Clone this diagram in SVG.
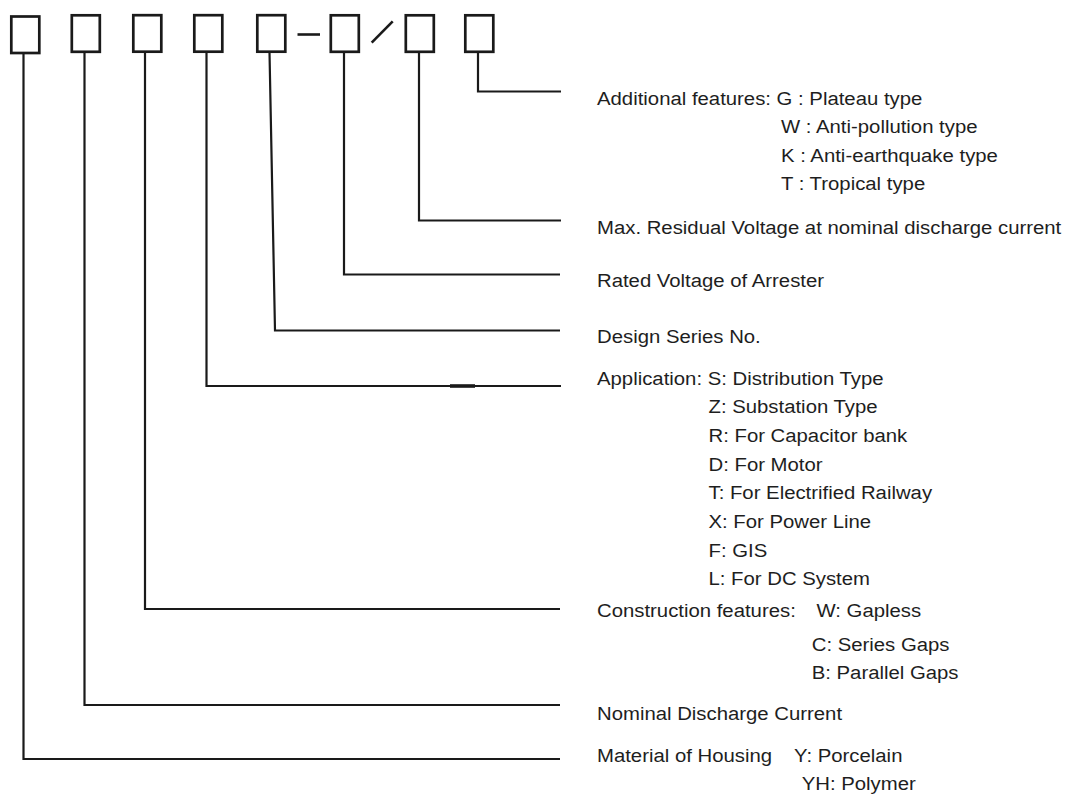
<svg xmlns="http://www.w3.org/2000/svg" width="1065" height="794" viewBox="0 0 1065 794">
<style>
.box{fill:none;stroke:#1a1a1a;stroke-width:2.7}
.ln{fill:none;stroke:#1a1a1a;stroke-width:2.2;stroke-linejoin:miter}
.sym{stroke:#1a1a1a;stroke-width:2.6;fill:none}
text{font-family:"Liberation Sans",Arial,sans-serif;font-size:18px;fill:#1e1e1e}
</style>
<rect width="1065" height="794" fill="#ffffff"/>
<g id="boxes">
<g id="box1"><rect class="box" x="11.3" y="16.5" width="28" height="36.5"/></g>
<g id="box2"><rect class="box" x="71.8" y="15.3" width="28" height="36.5"/></g>
<g id="box3"><rect class="box" x="133.3" y="15.2" width="28" height="36.5"/></g>
<g id="box4"><rect class="box" x="194.3" y="15.2" width="28" height="36.5"/></g>
<g id="box5"><rect class="box" x="257.3" y="15.2" width="28" height="36.5"/></g>
<g id="box6"><rect class="box" x="330.8" y="15.3" width="28" height="36.5"/></g>
<g id="box7"><rect class="box" x="405.8" y="15.3" width="28" height="36.5"/></g>
<g id="box8"><rect class="box" x="465.3" y="15.3" width="28" height="36.5"/></g>
<g id="separators">
<line class="sym" x1="297.5" y1="34.5" x2="320" y2="34.5"/>
<line class="sym" x1="371.7" y1="42.7" x2="392.7" y2="21.3"/>
</g>
</g>
<g id="connectors">
<polyline class="ln" points="478,52 478,91.5 561,91.5"/>
<polyline class="ln" points="419,52 419,220.5 561,220.5"/>
<polyline class="ln" points="344,52 344,274.5 560,274.5"/>
<polyline class="ln" points="269.5,52 275,330.5 560,330.5"/>
<polyline class="ln" points="206.5,52 206.5,386 561,386"/>
<line x1="450" y1="386" x2="475" y2="386" stroke="#1a1a1a" stroke-width="3.6"/>
<polyline class="ln" points="145,52 145,609 560,609"/>
<polyline class="ln" points="84.5,52 84.5,705 560,705"/>
<polyline class="ln" points="23.5,53 23.5,759 560,759"/>
</g>
<g id="label-additional">
<text transform="translate(597,104.5) scale(1.13,1)">Additional features: G : Plateau type</text>
<text transform="translate(781,133.1) scale(1.13,1)">W : Anti-pollution type</text>
<text transform="translate(781,161.7) scale(1.13,1)">K : Anti-earthquake type</text>
<text transform="translate(781,190.3) scale(1.13,1)">T : Tropical type</text>
</g>
<g id="label-maxres">
<text transform="translate(597,233.5) scale(1.13,1)">Max. Residual Voltage at nominal discharge current</text>
</g>
<g id="label-rated">
<text transform="translate(597,287) scale(1.13,1)">Rated Voltage of Arrester</text>
</g>
<g id="label-design">
<text transform="translate(597,342.5) scale(1.13,1)">Design Series No.</text>
</g>
<g id="label-application">
<text transform="translate(597,384.5) scale(1.13,1)">Application: S: Distribution Type</text>
<text transform="translate(708.5,413.2) scale(1.13,1)">Z: Substation Type</text>
<text transform="translate(708.5,441.9) scale(1.13,1)">R: For Capacitor bank</text>
<text transform="translate(708.5,470.6) scale(1.13,1)">D: For Motor</text>
<text transform="translate(708.5,499.3) scale(1.13,1)">T: For Electrified Railway</text>
<text transform="translate(708.5,528) scale(1.13,1)">X: For Power Line</text>
<text transform="translate(708.5,556.7) scale(1.13,1)">F: GIS</text>
<text transform="translate(708.5,585.4) scale(1.13,1)">L: For DC System</text>
</g>
<g id="label-construction">
<text transform="translate(597,616.5) scale(1.13,1)">Construction features:</text>
<text transform="translate(816.5,616.5) scale(1.13,1)">W: Gapless</text>
<text transform="translate(811.7,650.5) scale(1.13,1)">C: Series Gaps</text>
<text transform="translate(811.7,679) scale(1.13,1)">B: Parallel Gaps</text>
</g>
<g id="label-nominal">
<text transform="translate(597,720) scale(1.13,1)">Nominal Discharge Current</text>
</g>
<g id="label-material">
<text transform="translate(597,762) scale(1.13,1)">Material of Housing</text>
<text transform="translate(794,762) scale(1.13,1)">Y: Porcelain</text>
<text transform="translate(801.7,790) scale(1.13,1)">YH: Polymer</text>
</g>
</svg>
